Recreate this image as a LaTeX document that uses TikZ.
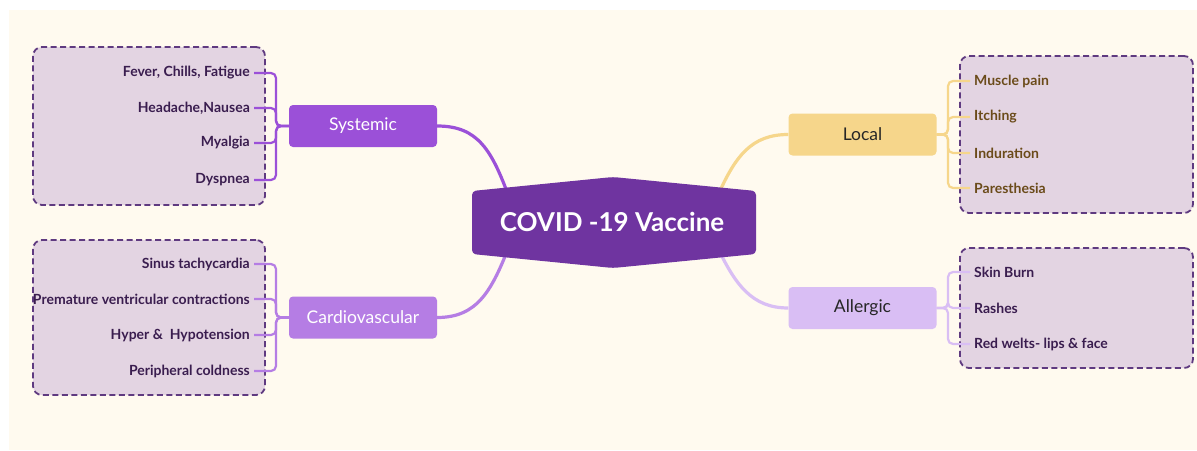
\documentclass[tikz,border=0pt]{standalone}
\usepackage{fontspec}
\setmainfont{Lato}
\usetikzlibrary{calc}

\definecolor{cream}{HTML}{FFFAEF}
\definecolor{grpfill}{HTML}{E3D4E2}
\definecolor{grpline}{HTML}{5F3A80}
\definecolor{vacfill}{HTML}{6F34A0}
\definecolor{sysfill}{HTML}{9B50D8}
\definecolor{carfill}{HTML}{B57DE4}
\definecolor{locfill}{HTML}{F6D68B}
\definecolor{allfill}{HTML}{D9BEF4}
\definecolor{purtext}{HTML}{3A1D4F}
\definecolor{brntext}{HTML}{6B4B1A}

\begin{document}
\begin{tikzpicture}[
  x=1pt,y=-1pt,
  group/.style={draw=grpline,fill=grpfill,line width=1.8pt,
    dash pattern=on 6pt off 3.5pt,rounded corners=9pt},
  cat/.style={rounded corners=4pt,minimum width=148pt,minimum height=42pt,
    font=\fontsize{17.5}{20}\selectfont},
  item/.style={font=\fontsize{14}{16}\selectfont\bfseries,inner sep=4pt},
  link/.style={line width=3.2pt},
  twig/.style={line width=2.2pt,rounded corners=5pt}
]
  \useasboundingbox (0,0) rectangle (1197,450);
  \fill[cream] (9,10) rectangle (1197,450);

  \node[group,minimum width=232pt,minimum height=158pt] (gsys) at (149,126) {};
  \node[group,minimum width=232pt,minimum height=155pt] (gcar) at (149,317.5) {};
  \node[group,minimum width=233pt,minimum height=157pt] (gloc) at (1076.5,134.5) {};
  \node[group,minimum width=233pt,minimum height=120pt] (gall) at (1076.5,308) {};

  \node[cat,fill=sysfill,text=white] (sys) at (363,126) {Systemic};
  \node[cat,fill=carfill,text=white] (car) at (363,317.5) {Cardiovascular};
  \node[cat,fill=locfill,text=black!85] (loc) at (862.5,134.5) {Local};
  \node[cat,fill=allfill,text=black!85] (all) at (862.5,308) {Allergic};

  \node[item,text=purtext,anchor=east] (s1) at (254,73) {Fever, Chills, Fatigue};
  \node[item,text=purtext,anchor=east] (s2) at (254,108) {Headache,Nausea};
  \node[item,text=purtext,anchor=east] (s3) at (254,143) {Myalgia};
  \node[item,text=purtext,anchor=east] (s4) at (254,180) {Dyspnea};

  \node[item,text=purtext,anchor=east] (c1) at (254,264) {Sinus tachycardia};
  \node[item,text=purtext,anchor=east] (c2) at (254,299) {Premature ventricular contractions};
  \node[item,text=purtext,anchor=east] (c3) at (254,335) {Hyper \&\ \ Hypotension};
  \node[item,text=purtext,anchor=east] (c4) at (254,371) {Peripheral coldness};

  \node[item,text=brntext,anchor=west] (l1) at (970,81) {Muscle pain};
  \node[item,text=brntext,anchor=west] (l2) at (970,117) {Itching};
  \node[item,text=brntext,anchor=west] (l3) at (970,153) {Induration};
  \node[item,text=brntext,anchor=west] (l4) at (970,188) {Paresthesia};

  \node[item,text=purtext,anchor=west] (a1) at (970,272) {Skin Burn};
  \node[item,text=purtext,anchor=west] (a2) at (970,308) {Rashes};
  \node[item,text=purtext,anchor=west] (a3) at (970,344) {Red welts- lips \& face};

  \coordinate (jsys) at (276,126);
  \coordinate (jcar) at (276,317.5);
  \coordinate (jloc) at (948,134.5);
  \coordinate (jall) at (948,308);

  \foreach \s in {s1,s2,s3,s4}
    \draw[twig,sysfill] (\s.east) -| (jsys) -- (sys.west);
  \foreach \s in {c1,c2,c3,c4}
    \draw[twig,carfill] (\s.east) -| (jcar) -- (car.west);
  \foreach \s in {l1,l2,l3,l4}
    \draw[twig,locfill] (loc.east) -- (jloc) |- (\s.west);
  \foreach \s in {a1,a2,a3}
    \draw[twig,allfill] (all.east) -- (jall) |- (\s.west);

  \coordinate (vsys) at (510,200);
  \coordinate (vcar) at (510,244);
  \coordinate (vloc) at (716,200);
  \coordinate (vall) at (716,244);

  \draw[link,sysfill] (sys.east) .. controls (478,126) and (492,150) .. (vsys);
  \draw[link,carfill] (car.east) .. controls (478,317.5) and (492,290) .. (vcar);
  \draw[link,locfill] (loc.west) .. controls (752,134.5) and (735,155) .. (vloc);
  \draw[link,allfill] (all.west) .. controls (752,308) and (735,285) .. (vall);

  \fill[vacfill,rounded corners=4pt] (472,191) -- (613,177) -- (756,191)
    -- (756,254) -- (613,268) -- (472,254) -- cycle;
  \node[font=\fontsize{26}{30}\selectfont\bfseries,text=white] (vac) at (612,222)
    {COVID -19 Vaccine};
\end{tikzpicture}
\end{document}
